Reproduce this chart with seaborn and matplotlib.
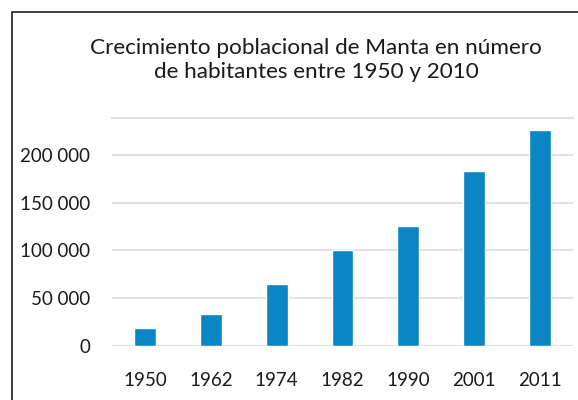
import pandas as pd
import seaborn as sns
import matplotlib.pyplot as plt
from matplotlib.ticker import FuncFormatter, MultipleLocator
from matplotlib.lines import Line2D

years = ['1950', '1962', '1974', '1982', '1990', '2001', '2011']
population = [19000, 33600, 64500, 100300, 125500, 183200, 226500]

df = pd.DataFrame({'year': years, 'population': population})

sns.set_style("white")
plt.rcParams['font.family'] = ['Lato', 'DejaVu Sans']

fig = plt.figure(figsize=(5.78, 4.0), dpi=100)
ax = fig.add_axes([0.194, 0.135, 0.797, 0.57])

sns.barplot(data=df, x='year', y='population', color='#0a86c4', width=0.33,
            saturation=1, ax=ax, zorder=3)

ax.set_ylim(0, 238700)
ax.yaxis.set_major_locator(MultipleLocator(50000))
ax.yaxis.set_major_formatter(FuncFormatter(lambda v, p: f"{int(v):,}".replace(",", " ")))
ax.grid(axis='y', color='#e2e2e2', linewidth=1.5, zorder=0)
ax.set_axisbelow(True)
ax.set_xlabel('')
ax.set_ylabel('')
ax.tick_params(axis='y', length=0, pad=16, labelsize=13.5, labelcolor='#1a1a1a')
ax.tick_params(axis='x', length=0, pad=19, labelsize=13.5, labelcolor='#1a1a1a')
for s in ['left', 'right', 'bottom']:
    ax.spines[s].set_visible(False)
ax.spines['top'].set_color('#e2e2e2')
ax.spines['top'].set_linewidth(1.5)

fig.text(0.547, 0.85, "Crecimiento poblacional de Manta en número\nde habitantes entre 1950 y 2010",
         ha='center', va='center', fontsize=16.2, color='#1a1a1a', linespacing=1.3)

# frame lines (left and top only)
fig.add_artist(Line2D([12 / 578, 12 / 578], [0, 1 - 12 / 400], color='#333333', lw=1.3))
fig.add_artist(Line2D([12 / 578, 1], [1 - 12 / 400, 1 - 12 / 400], color='#333333', lw=1.3))

fig.savefig('out.png', dpi=100)
